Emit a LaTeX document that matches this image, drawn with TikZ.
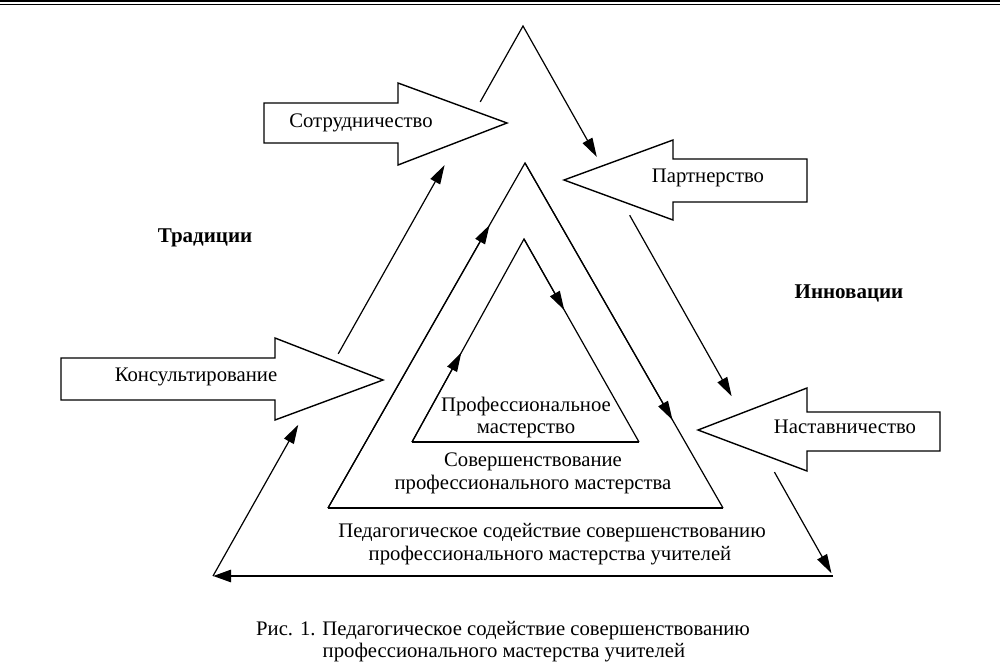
\documentclass[tikz,border=0pt]{standalone}
\usepackage{fontspec}
\setmainfont{Liberation Serif}
\usetikzlibrary{arrows.meta,calc}
\begin{document}
\begin{tikzpicture}[x=1pt,y=-1pt,
  edge/.style={line width=1.2pt,line join=miter},
  tipline/.style={line width=1.2pt,-{Triangle[length=19pt,width=11pt]}},
  botline/.style={line width=2.8pt,-{Triangle[length=18pt,width=12pt]}},
  blockarrow/.style={line width=1.4pt,fill=white,line join=miter},
  txt/.style={font=\fontsize{20.7}{23}\selectfont,inner sep=0pt,anchor=base},
  boldtxt/.style={font=\fontsize{21}{23}\selectfont\bfseries,inner sep=0pt,anchor=base}]
\useasboundingbox (0,0) rectangle (1000,661);
% top rule
\draw[line width=2pt] (0,1) -- (1000,1);
\draw[line width=1pt] (0,4.5) -- (1000,4.5);

% outer triangle (with gaps)
\coordinate (OA) at (523,26);
\coordinate (OL) at (213,576);
\coordinate (OR) at (833,576);
\coordinate (ol1) at ($(OA)!0.138!(OL)$);
\coordinate (ol2) at ($(OA)!0.253!(OL)$);
\coordinate (ol3) at ($(OA)!0.596!(OL)$);
\coordinate (ol4) at ($(OA)!0.725!(OL)$);
\coordinate (or1) at ($(OA)!0.238!(OR)$);
\coordinate (or2) at ($(OA)!0.344!(OR)$);
\coordinate (or3) at ($(OA)!0.673!(OR)$);
\coordinate (or4) at ($(OA)!0.811!(OR)$);
\coordinate (or5) at ($(OA)!0.995!(OR)$);
\draw[tipline] (ol1) -- (OA) -- (or1);
\draw[tipline] (or2) -- (or3);
\draw[tipline] (or4) -- (or5);
\draw[botline] (OR) -- (OL);
\draw[tipline] (OL) -- (ol4);
\draw[tipline] (ol3) -- (ol2);

% middle triangle
\coordinate (MA) at (525,163);
\coordinate (ML) at (328,508);
\coordinate (MR) at (723,508);
\draw[edge] (ML) -- (MA) -- (MR);
\draw[line width=1.8pt] (MR) -- (ML);
\draw[tipline] (ML) -- ($(ML)!0.82!(MA)$);
\draw[tipline] (MA) -- ($(MA)!0.745!(MR)$);

% inner triangle
\coordinate (IA) at (524,239);
\coordinate (IL) at (412,442);
\coordinate (IR) at (639,442);
\draw[edge] (IL) -- (IA) -- (IR);
\draw[line width=1.8pt] (IR) -- (IL);
\draw[tipline] (IL) -- ($(IL)!0.44!(IA)$);
\draw[tipline] (IA) -- ($(IA)!0.35!(IR)$);

% block arrows
\draw[blockarrow] (264,103) -- (398,103) -- (398,83) -- (507,123) -- (398,165) -- (398,143) -- (264,143) -- cycle;
\draw[blockarrow] (807,159) -- (673,159) -- (673,140) -- (564,180) -- (673,220) -- (673,202) -- (807,202) -- cycle;
\draw[blockarrow] (61,358) -- (275,358) -- (275,338) -- (383,380) -- (275,420) -- (275,400) -- (61,400) -- cycle;
\draw[blockarrow] (940,412) -- (807,412) -- (807,388) -- (698,430) -- (807,471) -- (807,451) -- (940,451) -- cycle;

% labels
\node[txt] (sotr) at (361,127) {Сотрудничество};
\node[txt] (partn) at (708,182) {Партнерство};
\node[txt] (kons) at (196,381) {Консультирование};
\node[txt] (nast) at (845,433) {Наставничество};
\node[boldtxt] (trad) at (205,242) {Традиции};
\node[boldtxt] (innov) at (849,298) {Инновации};

\node[txt] (pm1) at (526,411) {Профессиональное};
\node[txt] (pm2) at (526,433) {мастерство};
\node[txt] (sp1) at (533,466) {Совершенствование};
\node[txt] (sp2) at (533,489) {профессионального мастерства};
\node[txt] (ps1) at (552,537) {Педагогическое содействие совершенствованию};
\node[txt] (ps2) at (550,560) {профессионального мастерства учителей};

\node[txt] (cap1) at (503,635) {Рис. 1. Педагогическое содействие совершенствованию};
\node[txt] (cap2) at (504,657) {профессионального мастерства учителей};
\end{tikzpicture}
\end{document}
